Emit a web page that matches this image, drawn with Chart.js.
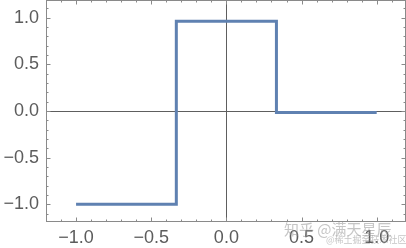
<!DOCTYPE html>
<html>
<head>
  <script src="https://cdn.jsdelivr.net/npm/chart.js"></script>
  <style>
    html, body { margin: 0; padding: 0; background: #fff; }
    #wrap { position: relative; width: 406px; height: 248px; }
    .wm { position: absolute; font-family: "Noto Sans CJK SC", sans-serif; color: rgba(150,150,150,0.55); white-space: nowrap; }
  </style>
</head>
<body>
  <div id="wrap">
    <canvas id="c" width="406" height="248"></canvas>
    <div class="wm" style="left:284px; top:218px; font-size:15px;">知乎 @满天星辰</div>
    <div class="wm" style="left:326px; top:233px; font-size:9px;">@稀土掘金技术社区</div>
  </div>
  <script>
    // step curve
    const xs = [-1, -0.333, -0.333, 0.333, 0.333, 1];
    const ys = [-1, -1, 0.963, 0.963, -0.015, -0.015];
    const xTicks = [-1, -0.5, 0, 0.5, 1];
    const yTicks = [-1, -0.5, 0, 0.5, 1];

    const fmt = v => v.toFixed(1).replace('-', '\u2212');

    // frame + inward ticks, Mathematica style
    const framePlugin = {
      id: 'frame',
      afterDraw(chart) {
        const ctx = chart.ctx, a = chart.chartArea;
        const sx = chart.scales.x, sy = chart.scales.y;
        ctx.save();
        ctx.strokeStyle = '#8a8a8a';
        ctx.lineWidth = 1;
        ctx.strokeRect(a.left + 0.5, a.top + 0.5, a.right - a.left - 1, a.bottom - a.top - 1);
        ctx.beginPath();
        for (let i = -12; i <= 12; i++) {
          const v = i / 10;
          const major = i % 5 === 0;
          const len = major ? 4.5 : 2.5;
          if (v >= sx.min && v <= sx.max) {
            const px = Math.round(sx.getPixelForValue(v)) + 0.5;
            ctx.moveTo(px, a.bottom); ctx.lineTo(px, a.bottom - len);
            ctx.moveTo(px, a.top); ctx.lineTo(px, a.top + len);
          }
          if (v >= sy.min && v <= sy.max) {
            const py = Math.round(sy.getPixelForValue(v)) + 0.5;
            ctx.moveTo(a.left, py); ctx.lineTo(a.left + len, py);
            ctx.moveTo(a.right, py); ctx.lineTo(a.right - len, py);
          }
        }
        ctx.stroke();
        ctx.restore();
      }
    };

    const zeroGrid = c => c.tick && c.tick.value === 0 ? '#5e5e5e' : 'rgba(0,0,0,0)';

    new Chart(document.getElementById('c'), {
      type: 'scatter',
      data: {
        datasets: [{
          data: xs.map((x, i) => ({ x: x, y: ys[i] })),
          showLine: true,
          borderColor: '#5f81b1',
          borderWidth: 3,
          pointRadius: 0,
          fill: false
        }]
      },
      options: {
        responsive: false,
        animation: false,
        layout: { padding: 0 },
        plugins: { legend: { display: false }, tooltip: { enabled: false } },
        scales: {
          x: {
            type: 'linear', min: -1.2, max: 1.195,
            afterBuildTicks: s => { s.ticks = xTicks.map(v => ({ value: v })); },
            afterFit: s => { s.height = 26; s.paddingLeft = 0; s.paddingRight = 0; },
            grid: { color: zeroGrid, drawTicks: false, lineWidth: 1 },
            border: { display: false },
            ticks: { callback: fmt, padding: 5, color: '#5c5c5c', maxRotation: 0, autoSkip: false,
                      font: { family: 'Liberation Sans, Arial, sans-serif', size: 18 } }
          },
          y: {
            type: 'linear', min: -1.19, max: 1.19,
            afterBuildTicks: s => { s.ticks = yTicks.map(v => ({ value: v })); },
            afterFit: s => { s.width = 46; s.paddingTop = 0; s.paddingBottom = 0; },
            grid: { color: zeroGrid, drawTicks: false, lineWidth: 1 },
            border: { display: false },
            ticks: { callback: fmt, padding: 7, color: '#5c5c5c', autoSkip: false,
                      font: { family: 'Liberation Sans, Arial, sans-serif', size: 18 } }
          }
        }
      },
      plugins: [framePlugin]
    });
  </script>
</body>
</html>
